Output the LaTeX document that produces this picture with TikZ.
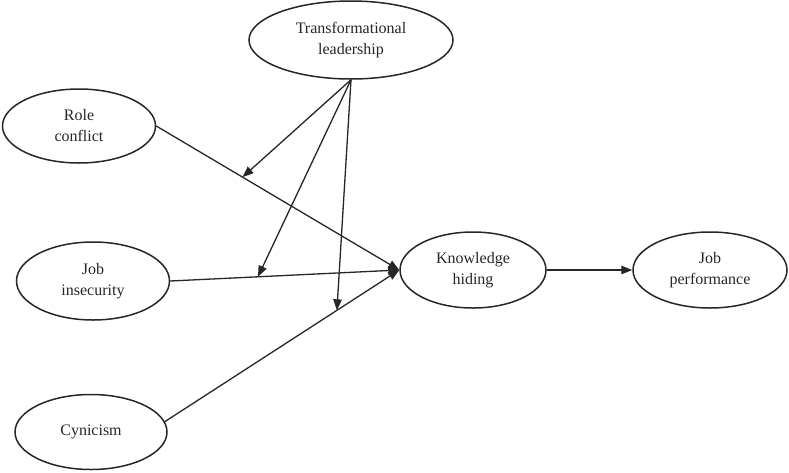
\documentclass[tikz,border=0pt]{standalone}
\usepackage{fontspec}
\setmainfont{Liberation Serif}
\usetikzlibrary{arrows.meta,calc,shapes.geometric}
\begin{document}
\begin{tikzpicture}[x=1pt,y=-1pt,
  latent/.style={draw=black!85, line width=1.5pt, ellipse, inner sep=0pt, align=center,
    font=\fontsize{16}{21}\selectfont, text=black!85},
  path/.style={draw=black!85, line width=1.3pt, -{Triangle[length=11pt,width=8.5pt]}}]
\useasboundingbox (0,0) rectangle (789,472);
\node[latent, minimum width=204pt, minimum height=78pt] (tl) at (351,40) {Transformational\\leadership};
\node[latent, minimum width=153pt, minimum height=74pt] (rc) at (79,126) {Role\\conflict};
\node[latent, minimum width=153pt, minimum height=78pt] (ji) at (93,281) {Job\\insecurity};
\node[latent, minimum width=152pt, minimum height=75pt] (cy) at (91,432) {Cynicism};
\node[latent, minimum width=146pt, minimum height=76pt] (kh) at (473,270) {Knowledge\\hiding};
\node[latent, minimum width=154pt, minimum height=76pt] (jp) at (710,270) {Job\\performance};
\coordinate (cystart) at (cy.8);
\draw[path] (rc.east) -- (kh.west);
\draw[path] (ji.east) -- (kh.west);
\draw[path] (cystart) -- (kh.west);
\draw[path] (kh.east) -- (jp.west);
\coordinate (m1) at ($(rc.east)!0.355!(kh.west)$);
\coordinate (m2) at ($(ji.east)!0.383!(kh.west)$);
\coordinate (m3) at ($(cystart)!0.734!(kh.west)$);
\draw[path] (tl.south) -- (m1);
\draw[path] (tl.south) -- (m2);
\draw[path] (tl.south) -- (m3);
\end{tikzpicture}
\end{document}
